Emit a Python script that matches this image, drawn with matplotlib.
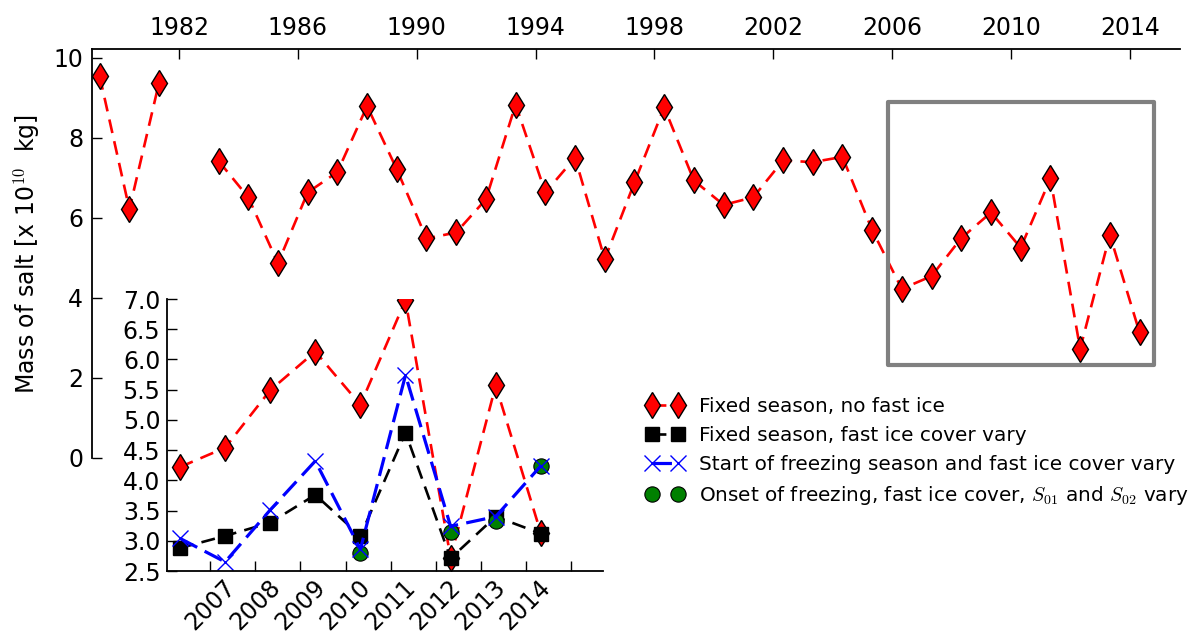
import numpy as np
import matplotlib
matplotlib.use('Agg')
import matplotlib.pyplot as plt
from matplotlib.patches import Rectangle
from matplotlib.lines import Line2D

# salt mass, x 10^10 kg (no value for 1982)
years = [1979, 1980, 1981, 1982, 1983, 1984, 1985, 1986, 1987, 1988, 1989,
         1990, 1991, 1992, 1993, 1994, 1995, 1996, 1997, 1998, 1999, 2000,
         2001, 2002, 2003, 2004, 2005, 2006, 2007, 2008, 2009, 2010, 2011,
         2012, 2013, 2014]
fixed_no_ice = [9.54, 6.21, 9.38, np.nan, 7.42, 6.51, 4.86, 6.63, 7.14, 8.79,
                7.21, 5.48, 5.63, 6.46, 8.83, 6.63, 7.50, 4.96, 6.88, 8.76,
                6.93, 6.32, 6.51, 7.43, 7.39, 7.52, 5.69, 4.22, 4.54, 5.49,
                6.13, 5.25, 6.98, 2.72, 5.57, 3.13]

inset_years = [2006, 2007, 2008, 2009, 2010, 2011, 2012, 2013, 2014]
fixed_ice_vary = [2.88, 3.08, 3.30, 3.76, 3.08, 4.79, 2.71, 3.40, 3.12]
start_and_ice = [3.04, 2.65, 3.51, 4.32, 2.86, 5.74, 3.24, 3.40, 4.24]
onset_all = [np.nan, np.nan, np.nan, np.nan, 2.79, np.nan, 3.14, 3.32, 4.24]

top_ticks = [1982, 1986, 1990, 1994, 1998, 2002, 2006, 2010, 2014]
inset_ticks = [2007, 2008, 2009, 2010, 2011, 2012, 2013, 2014, 2015]
inset_labels = ['2007', '2008', '2009', '2010', '2011', '2012', '2013', '2014', '']

season = 0.33  # points sit at the freezing season, not on Jan 1

plt.rcParams['mathtext.fontset'] = 'cm'
plt.rcParams['lines.scale_dashes'] = False
plt.rcParams['font.size'] = 17

x_main = np.array(years) + season
x_in = np.array(inset_years) + season
red_in = fixed_no_ice[-len(inset_years):]

red_style = dict(color='red', lw=1.9, dashes=(10, 6), marker='d', ms=13,
                 mfc='red', mec='black', mew=1)
black_style = dict(color='black', lw=1.9, dashes=(10, 6), marker='s', ms=10,
                   mfc='black', mec='black')
blue_style = dict(color='blue', lw=2.3, dashes=(14, 6), marker='x', ms=11,
                  mew=1, mec='blue')
green_style = dict(ls='none', marker='o', ms=11, mfc='green', mec='black',
                   mew=0.8)

fig = plt.figure(figsize=(11.98, 6.37), dpi=100)
ax = fig.add_axes([0.0765, 0.2815, 0.9082, 0.6411])

ax.plot(x_main, fixed_no_ice, **red_style)
ax.set_xlim(1979.06, 2015.68)
ax.set_ylim(0, 10.21)
ax.set_xticks(top_ticks)
ax.set_yticks([0, 2, 4, 6, 8, 10])
ax.xaxis.tick_top()
ax.spines['bottom'].set_visible(False)
ax.spines['right'].set_visible(False)
for s in ['top', 'left']:
    ax.spines[s].set_linewidth(1.3)
ax.tick_params(direction='in', length=7, width=1, pad=7)
ax.tick_params(axis='y', pad=6, right=False)
ax.set_ylabel('Mass of salt [x 10$^{10}$  kg]', fontsize=17)
ax.yaxis.set_label_coords(-0.046, 0.5)

box = Rectangle((2005.86, 2.32), 8.94, 6.57, fill=False, edgecolor='0.5',
                lw=3, joinstyle='round', zorder=5, clip_on=False)
ax.add_patch(box)

ins = fig.add_axes([0.1397, 0.1036, 0.3633, 0.4270])
ins.patch.set_alpha(0)
ins.plot(x_in, red_in, **red_style)
ins.plot(x_in, fixed_ice_vary, **black_style)
ins.plot(x_in, onset_all, **green_style)
ins.plot(x_in, start_and_ice, **blue_style)
ins.set_xlim(2006.05, 2015.70)
ins.set_ylim(2.5, 7.0)
ins.set_yticks(np.arange(2.5, 7.01, 0.5))
ins.set_yticklabels(['%.1f' % v for v in np.arange(2.5, 7.01, 0.5)])
ins.set_xticks(inset_ticks)
ins.set_xticklabels(inset_labels, rotation=45)
ins.spines['top'].set_visible(False)
ins.spines['right'].set_visible(False)
for s in ['bottom', 'left']:
    ins.spines[s].set_linewidth(1.3)
ins.tick_params(direction='in', length=7, width=1, top=False, right=False)
ins.tick_params(axis='y', pad=5)
ins.tick_params(axis='x', pad=3)

handles = [Line2D([], [], **red_style), Line2D([], [], **black_style),
           Line2D([], [], **blue_style), Line2D([], [], **green_style)]
labels = ['Fixed season, no fast ice',
          'Fixed season, fast ice cover vary',
          'Start of freezing season and fast ice cover vary',
          'Onset of freezing, fast ice cover, $S_{01}$ and $S_{02}$ vary']
fig.legend(handles, labels, loc='center left', bbox_to_anchor=(0.524, 0.2904),
           frameon=False, numpoints=2, fontsize=14.4, handlelength=1.9,
           handletextpad=0.75, labelspacing=0.5)

fig.savefig('out.png', dpi=100)
